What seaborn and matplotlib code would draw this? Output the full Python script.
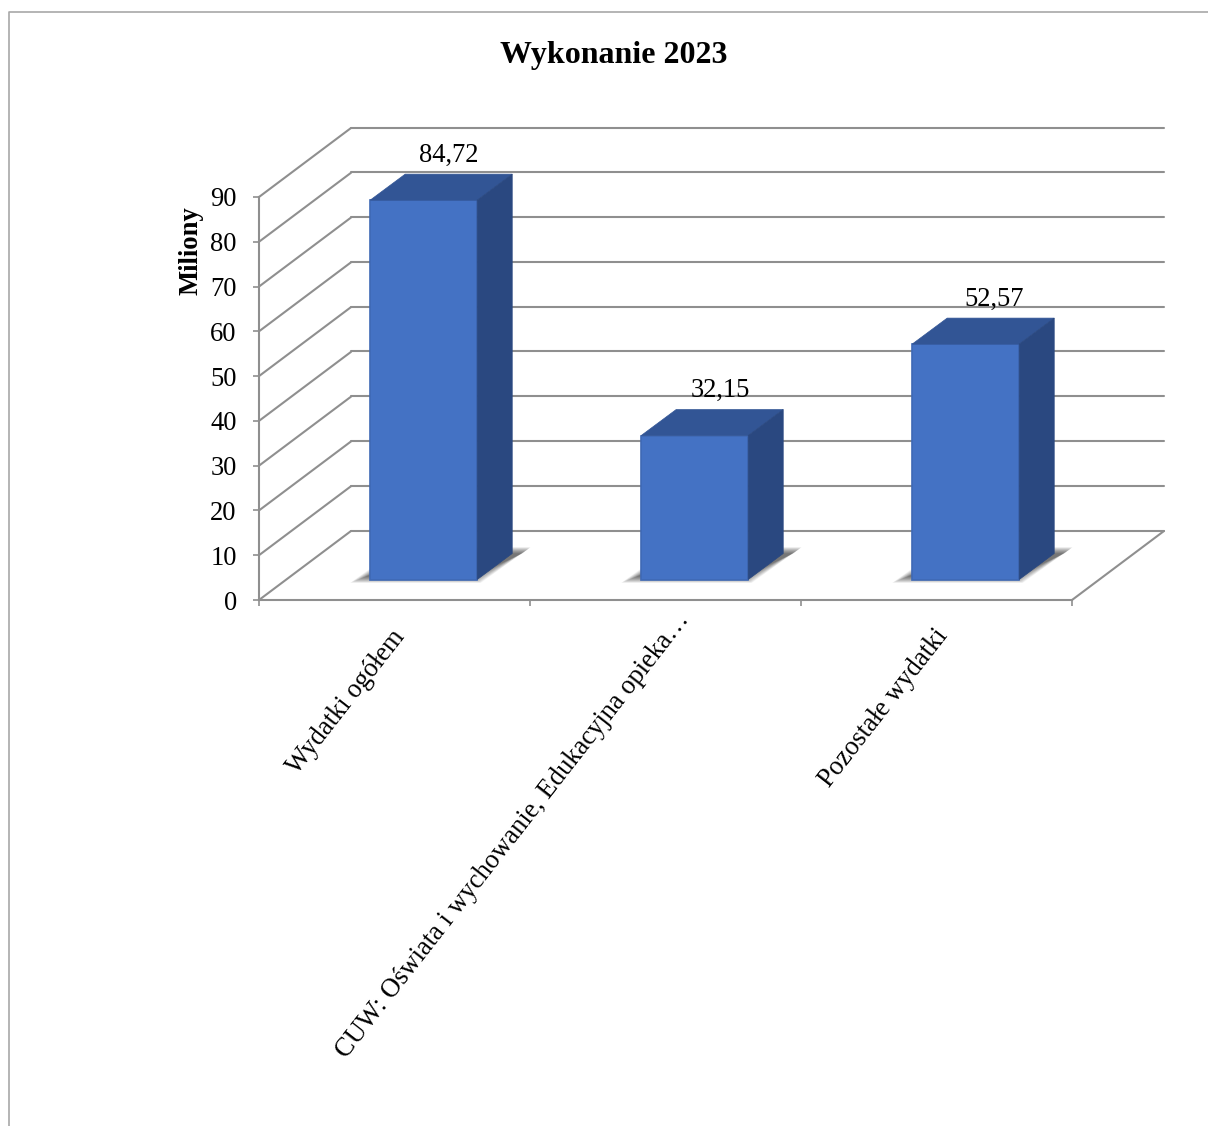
import matplotlib
matplotlib.use("Agg")
import matplotlib.pyplot as plt
from matplotlib.lines import Line2D
from matplotlib.patches import Polygon
from matplotlib.transforms import Affine2D
import numpy as np
import pandas as pd
import seaborn as sns

categories = ["Wydatki ogółem", "CUW: Oświata i wychowanie, Edukacyjna opieka…", "Pozostałe wydatki"]
values = [84.72, 32.15, 52.57]
y_ticks = list(range(0, 100, 10))
title = "Wykonanie 2023"
y_label = "Miliony"

W, H = 1208, 1126
sns.set_theme(style="white")
plt.rcParams["font.family"] = ["Liberation Serif", "DejaVu Serif"]

GRID = "#8f8f8f"
FS = 19.1
fig = plt.figure(figsize=(W / 100, H / 100), dpi=100)
ax = fig.add_axes([259 / W, (H - 600) / H, 813 / W, 403 / H])

df = pd.DataFrame({"cat": categories, "val": values})
sns.barplot(data=df, x="cat", y="val", width=0.395, color="#4472c4", saturation=1, ax=ax, zorder=5)
ax.set_xlim(-0.5, 2.5)
ax.set_ylim(0, 90)


def shift(px, py):
    return ax.transData + Affine2D().translate(px, py)


# wall / floor depth (pixels)
WX, WY = 92, 69
back = shift(WX, WY + 0.5)
for t in y_ticks:
    ax.plot([-0.5, 2.5], [t, t], color=GRID, lw=1.5, transform=back, clip_on=False, zorder=1)
    ax.plot([-0.5, -0.5 + WX / 271], [t, t + WY / 4.478], color=GRID, lw=1.5, clip_on=False, zorder=1)
ax.plot([2.5, 2.5 + WX / 271], [0, WY / 4.478], color=GRID, lw=1.5, clip_on=False, zorder=1)

# 3D bars
BX, BY = 29.2, 20.5
DX, DY = 35 / 271, 26 / 4.478
front = shift(BX, BY)
label_dx = [25, 26, 28]
for rect, v, ldx in zip(ax.patches, values, label_dx):
    rect.set_transform(front)
    rect.set_clip_on(False)
    rect.set_edgecolor("#3f69b5")
    rect.set_linewidth(1.2)
    x0, x1 = rect.get_x(), rect.get_x() + rect.get_width()
    ax.add_patch(Polygon([(x0, v), (x1, v), (x1 + DX, v + DY), (x0 + DX, v + DY)], closed=True,
                         fc="#325595", ec="#325595", lw=0.5, transform=front, clip_on=False, zorder=6))
    ax.add_patch(Polygon([(x1, 0), (x1, v), (x1 + DX, v + DY), (x1 + DX, DY)], closed=True,
                         fc="#2a4880", ec="#2a4880", lw=0.5, transform=front, clip_on=False, zorder=6))
    # blurred floor shadow
    for inset in np.linspace(-1, 15, 14):
        sx0, sx1 = x0 + (-19 + inset) / 271, x1 + (3 - inset * 0.5) / 271
        sy0, sy1 = (-3 + inset * 0.4) / 4.478, (32 - inset * 0.4) / 4.478
        ax.add_patch(Polygon([(sx0, sy0), (sx1, sy0), (sx1 + 50 / 271, sy1), (sx0 + 50 / 271, sy1)], closed=True,
                             fc="#000000", ec="none", alpha=0.05, transform=front, clip_on=False, zorder=3))
    ax.annotate(f"{v:.2f}".replace(".", ","), xy=((x0 + x1) / 2, v), xycoords=front, xytext=(ldx, 45),
                textcoords="offset pixels", ha="center", va="center", fontsize=FS, color="#000000", zorder=8)

# axes
sns.despine(ax=ax, top=True, right=True)
for s in ("left", "bottom"):
    ax.spines[s].set_color(GRID)
    ax.spines[s].set_linewidth(1.5)
ax.set_yticks(y_ticks)
ax.set_xticks([-0.5, 0.5, 1.5, 2.5], labels=["", "", "", ""])
ax.tick_params(axis="both", which="major", direction="out", length=4.5, width=1.2, color=GRID,
               left=True, bottom=True, labelsize=FS, labelcolor="#000000", pad=11.5)
ax.set_xlabel("")
ax.set_ylabel(y_label, fontsize=19.2, fontweight="bold", color="#000000")
ax.yaxis.set_label_coords((204 - 259) / 813, (600 - 251) / 403)

# rotated category labels
label_off = [(-4, -25), (9, -8), (-3, -24)]
for i, (c, off) in enumerate(zip(categories, label_off)):
    ax.annotate(c, xy=(i, 0), xycoords="data", xytext=off, textcoords="offset pixels",
                rotation=52, rotation_mode="anchor", ha="right", va="top", fontsize=FS, color="#000000")

fig.text(613.5 / W, 1 - 55.5 / H, title, ha="center", va="center", fontsize=23, fontweight="bold", color="#000000")

# outer frame
fig.add_artist(Line2D([9 / W, 9 / W, 1], [0, 1 - 12 / H, 1 - 12 / H], color="#a8a8a8", lw=1.2))

fig.savefig("out.png", dpi=100)
